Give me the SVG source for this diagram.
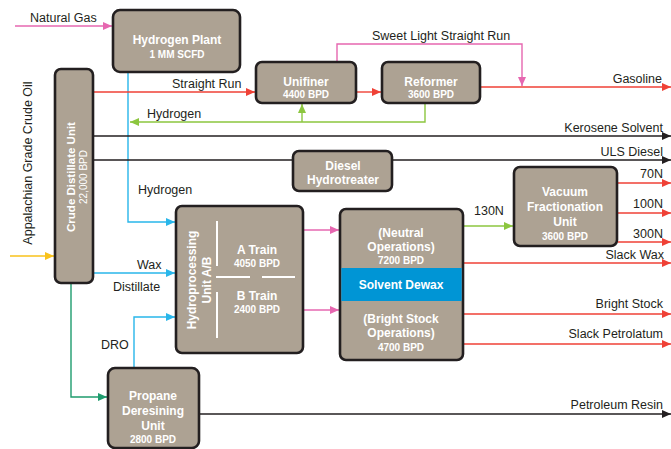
<svg xmlns="http://www.w3.org/2000/svg" width="671" height="449" viewBox="0 0 671 449">
<style>
.box{fill:#ada293;stroke:#231f20;stroke-width:2.6}
.t{font-family:"Liberation Sans",Arial,sans-serif;font-weight:bold;fill:#fff;font-size:12px;text-anchor:middle}
.s{font-family:"Liberation Sans",Arial,sans-serif;font-weight:bold;fill:#fff;font-size:10px;text-anchor:middle}
.l{font-family:"Liberation Sans",Arial,sans-serif;fill:#231f20;font-size:12.5px}
.r{text-anchor:end}
.ln{fill:none;stroke-width:1.4}
.red{stroke:#ef4136}.pink{stroke:#e667b0}.blue{stroke:#29b6ea}.lg{stroke:#8cc63f}.dg{stroke:#1f9c6e}.yel{stroke:#f9c21b}.blk{stroke:#231f20}
.wl{stroke:#fff;stroke-width:2}
</style>
<defs>
<marker id="aRed" markerUnits="userSpaceOnUse" markerWidth="9" markerHeight="8" refX="9" refY="4" orient="auto"><path d="M0,0 L9,4 L0,8 z" fill="#ef4136"/></marker>
<marker id="aPink" markerUnits="userSpaceOnUse" markerWidth="9" markerHeight="8" refX="9" refY="4" orient="auto"><path d="M0,0 L9,4 L0,8 z" fill="#e667b0"/></marker>
<marker id="aBlue" markerUnits="userSpaceOnUse" markerWidth="9" markerHeight="8" refX="9" refY="4" orient="auto"><path d="M0,0 L9,4 L0,8 z" fill="#29b6ea"/></marker>
<marker id="aLg" markerUnits="userSpaceOnUse" markerWidth="9" markerHeight="8" refX="9" refY="4" orient="auto"><path d="M0,0 L9,4 L0,8 z" fill="#8cc63f"/></marker>
<marker id="aDg" markerUnits="userSpaceOnUse" markerWidth="9" markerHeight="8" refX="9" refY="4" orient="auto"><path d="M0,0 L9,4 L0,8 z" fill="#1f9c6e"/></marker>
<marker id="aYel" markerUnits="userSpaceOnUse" markerWidth="9" markerHeight="8" refX="9" refY="4" orient="auto"><path d="M0,0 L9,4 L0,8 z" fill="#f9c21b"/></marker>
<marker id="aBlk" markerUnits="userSpaceOnUse" markerWidth="9" markerHeight="8" refX="9" refY="4" orient="auto"><path d="M0,0 L9,4 L0,8 z" fill="#231f20"/></marker>
</defs>
<rect width="671" height="449" fill="#fff"/>

<g id="connectors">
<path class="ln pink" d="M15,26 H112" marker-end="url(#aPink)"/>
<path class="ln blue" d="M128,72 V222 H175" marker-end="url(#aBlue)"/>
<path class="ln red" d="M93,92 H255" marker-end="url(#aRed)"/>
<path class="ln red" d="M356,92 H381" marker-end="url(#aRed)"/>
<path class="ln lg" d="M425,103 V122 H130" marker-end="url(#aLg)"/>
<path class="ln lg" d="M302,122 V104" marker-end="url(#aLg)"/>
<path class="ln pink" d="M337,62 V44 H522 V86" marker-end="url(#aPink)"/>
<path class="ln red" d="M480,87 H671" marker-end="url(#aRed)"/>
<path class="ln blk" d="M93,136 H671" marker-end="url(#aBlk)"/>
<path class="ln blk" d="M93,160 H293 M392,160 H671" marker-end="url(#aBlk)"/>
<path class="ln blue" d="M93,273 H175" marker-end="url(#aBlue)"/>
<path class="ln yel" d="M10,256 H54" marker-end="url(#aYel)"/>
<path class="ln dg" d="M71,284 V397 H107" marker-end="url(#aDg)"/>
<path class="ln blue" d="M134,368 V317 H175" marker-end="url(#aBlue)"/>
<path class="ln pink" d="M304,230 H339" marker-end="url(#aPink)"/>
<path class="ln pink" d="M304,310 H339" marker-end="url(#aPink)"/>
<path class="ln lg" d="M464,226 H513" marker-end="url(#aLg)"/>
<path class="ln red" d="M618,183 H671" marker-end="url(#aRed)"/>
<path class="ln red" d="M618,213 H671" marker-end="url(#aRed)"/>
<path class="ln red" d="M618,242 H671" marker-end="url(#aRed)"/>
<path class="ln red" d="M464,263 H671" marker-end="url(#aRed)"/>
<path class="ln red" d="M464,314 H671" marker-end="url(#aRed)"/>
<path class="ln red" d="M464,344 H671" marker-end="url(#aRed)"/>
<path class="ln blk" d="M200,414 H671" marker-end="url(#aBlk)"/>

<text class="l" x="30" y="22">Natural Gas</text>
<text class="l" x="172" y="88">Straight Run</text>
<text class="l" x="147" y="118">Hydrogen</text>
<text class="l" x="372" y="40">Sweet Light Straight Run</text>
<text class="l r" x="662" y="83">Gasoline</text>
<text class="l r" x="663" y="132">Kerosene Solvent</text>
<text class="l r" x="663" y="156">ULS Diesel</text>
<text class="l" x="138" y="194">Hydrogen</text>
<text class="l" x="137" y="269">Wax</text>
<text class="l" x="113" y="291">Distillate</text>
<text class="l" x="101" y="349">DRO</text>
<text class="l" x="474" y="215">130N</text>
<text class="l r" x="663" y="178">70N</text>
<text class="l r" x="663" y="208">100N</text>
<text class="l r" x="663" y="238">300N</text>
<text class="l r" x="664" y="259">Slack Wax</text>
<text class="l r" x="663" y="308">Bright Stock</text>
<text class="l r" x="663" y="338">Slack Petrolatum</text>
<text class="l r" x="663" y="409">Petroleum Resin</text>
<text class="l" transform="translate(32,163) rotate(-90)" text-anchor="middle">Appalachian Grade Crude Oil</text>
</g>

<g id="hydrogen-plant">
<rect class="box" x="113" y="10" width="127" height="62" rx="7"/>
<text class="t" x="177" y="44">Hydrogen Plant</text>
<text class="s" x="177" y="58">1 MM SCFD</text>
</g>

<g id="crude-distillate-unit">
<rect class="box" x="55" y="69" width="38" height="214" rx="6"/>
<text class="t" transform="translate(75,177) rotate(-90)" style="font-size:11.5px">Crude Distillate Unit</text>
<text class="s" transform="translate(87,177) rotate(-90)" style="font-weight:normal">22,000 BPD</text>
</g>

<g id="unifiner">
<rect class="box" x="256" y="62" width="100" height="41" rx="6"/>
<text class="t" x="306" y="86">Unifiner</text>
<text class="s" x="306" y="98">4400 BPD</text>
</g>

<g id="reformer">
<rect class="box" x="382" y="62" width="98" height="41" rx="6"/>
<text class="t" x="431" y="86">Reformer</text>
<text class="s" x="431" y="98">3600 BPD</text>
</g>

<g id="diesel-hydrotreater">
<rect class="box" x="293" y="151" width="99" height="40" rx="6"/>
<text class="t" x="343" y="170">Diesel</text>
<text class="t" x="343" y="184">Hydrotreater</text>
</g>

<g id="vacuum-fractionation-unit">
<rect class="box" x="514" y="167" width="103" height="79" rx="6"/>
<text class="t" x="565" y="196">Vacuum</text>
<text class="t" x="565" y="211">Fractionation</text>
<text class="t" x="565" y="226">Unit</text>
<text class="s" x="565" y="240">3600 BPD</text>
</g>

<g id="hydroprocessing-unit">
<rect class="box" x="176" y="206" width="127" height="147" rx="6"/>
<text class="t" transform="translate(196,280) rotate(-90)">Hydroprocessing</text>
<text class="t" transform="translate(211,280) rotate(-90)">Unit A/B</text>
<line class="wl" x1="217" y1="221" x2="217" y2="266"/>
<line class="wl" x1="217" y1="292" x2="217" y2="338"/>
<line class="wl" x1="216" y1="277" x2="250" y2="277"/>
<line class="wl" x1="262" y1="277" x2="295" y2="277"/>
<text class="t" x="257" y="254">A Train</text>
<text class="s" x="257" y="267">4050 BPD</text>
<text class="t" x="257" y="300">B Train</text>
<text class="s" x="257" y="313">2400 BPD</text>
</g>

<g id="solvent-dewax">
<rect class="box" x="340" y="209" width="123" height="151" rx="6"/>
<rect x="341.3" y="268" width="120.4" height="33" fill="#0095d5"/>
<text class="t" x="401" y="237">(Neutral</text>
<text class="t" x="401" y="251">Operations)</text>
<text class="s" x="401" y="264">7200 BPD</text>
<text class="t" x="401" y="289">Solvent Dewax</text>
<text class="t" x="401" y="323">(Bright Stock</text>
<text class="t" x="401" y="337">Operations)</text>
<text class="s" x="401" y="351">4700 BPD</text>
</g>

<g id="propane-deresining-unit">
<rect class="box" x="108" y="368" width="91" height="80" rx="7"/>
<text class="t" x="153" y="400">Propane</text>
<text class="t" x="153" y="415">Deresining</text>
<text class="t" x="153" y="430">Unit</text>
<text class="s" x="153" y="443">2800 BPD</text>
</g>
</svg>
